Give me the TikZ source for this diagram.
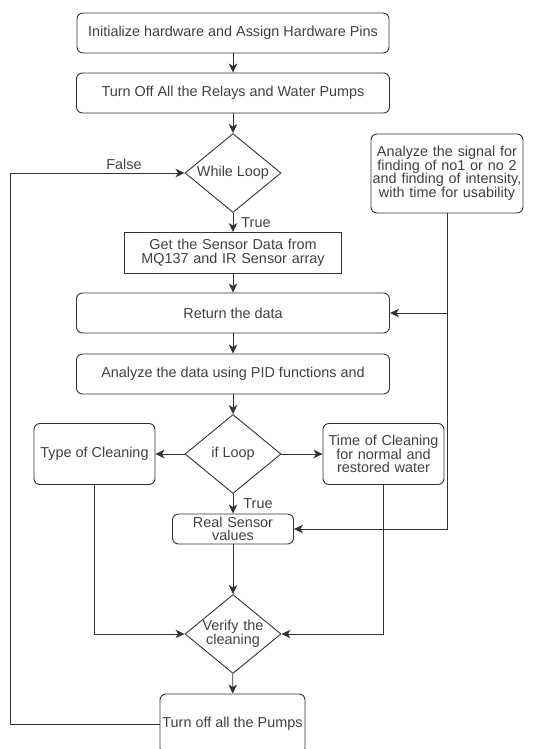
\documentclass[tikz,border=0pt]{standalone}
\usepackage{fontspec}
\setmainfont{Liberation Sans}
\usetikzlibrary{shapes.geometric,arrows.meta}

\tikzset{
  every node/.style={text=black!75, font=\fontsize{14.4}{13.5}\selectfont},
  procbox/.style={draw=black!80, line width=0.9pt, rounded corners=6pt, inner sep=0pt, align=center},
  databox/.style={draw=black!80, line width=0.9pt, inner sep=0pt, align=center},
  decision/.style={draw=black!80, line width=0.9pt, diamond, aspect=1.2, inner sep=0pt,
    minimum width=96pt, minimum height=79pt, align=center},
  flow/.style={draw=black!80, line width=0.9pt, -{Stealth[length=9pt,width=8.5pt,inset=2.5pt]}},
}

\begin{document}
\begin{tikzpicture}[x=1pt, y=-1pt]
  \useasboundingbox (0,0) rectangle (540,749);
  \clip (0,0) rectangle (540,749);

  % main column
  \node[procbox, minimum width=312pt, minimum height=40pt] (init) at (233,33) {Initialize hardware and Assign Hardware Pins};
  \node[procbox, minimum width=313pt, minimum height=40pt] (relays) at (233,93) {Turn Off All the Relays and Water Pumps};
  \node[decision] (while) at (233,173) {While Loop};
  \node[databox, minimum width=217pt, minimum height=41pt, text width=210pt] (sensor) at (233,253) {Get the Sensor Data from\\MQ137 and IR Sensor array};
  \node[procbox, minimum width=313pt, minimum height=40pt] (ret) at (233,313) {Return the data};
  \node[procbox, minimum width=313pt, minimum height=40pt] (pid) at (233,374) {Analyze the data using PID functions and};
  \node[decision] (ifloop) at (233,454) {if Loop};
  \node[procbox, minimum width=121pt, minimum height=30pt, text width=118pt] (real) at (233,529) {Real Sensor\\values};
  \node[decision, text width=62pt] (verify) at (233,634) {Verify the\\cleaning};
  \node[procbox, minimum width=145pt, minimum height=60pt] (pumps) at (232.5,724) {Turn off all the Pumps};

  % side boxes
  \node[procbox, minimum width=121pt, minimum height=61pt] (type) at (94.5,454) {Type of Cleaning};
  \node[procbox, minimum width=121pt, minimum height=61pt, text width=118pt] (time) at (383.5,454) {Time of Cleaning\\for normal and\\restored water};
  \node[procbox, minimum width=152pt, minimum height=79pt, text width=150pt] (signal) at (447,173.5) {Analyze the signal for\\finding of no1 or no 2\\and finding of intensity,\\with time for usability};

  % branch labels
  \node (falselbl) at (124,164) {False};
  \node (truewhile) at (256,223) {True};
  \node (trueif) at (258,504) {True};

  \draw[flow] (init) -- (relays);
  \draw[flow] (relays) -- (while);
  \draw[flow] (while) -- (sensor);
  \draw[flow] (sensor) -- (ret);
  \draw[flow] (ret) -- (pid);
  \draw[flow] (pid) -- (ifloop);
  \draw[flow] (ifloop) -- (type);
  \draw[flow] (ifloop) -- (time);
  \draw[flow] (ifloop) -- (real);
  \draw[flow] (real) -- (verify);
  \draw[flow] (type.south) |- (verify.west);
  \draw[flow] (time.south) |- (verify.east);
  \draw[flow] (verify) -- (pumps);

  % loop back to the while test
  \coordinate (loopx) at (10,724);
  \draw[flow] (pumps.west) -- (loopx) |- (while.west);

  % signal analysis feeds the data
  \coordinate (tap) at (signal.south |- ret.east);
  \draw[flow] (signal.south) |- (real.east);
  \draw[flow] (tap) -- (ret.east);
\end{tikzpicture}
\end{document}
